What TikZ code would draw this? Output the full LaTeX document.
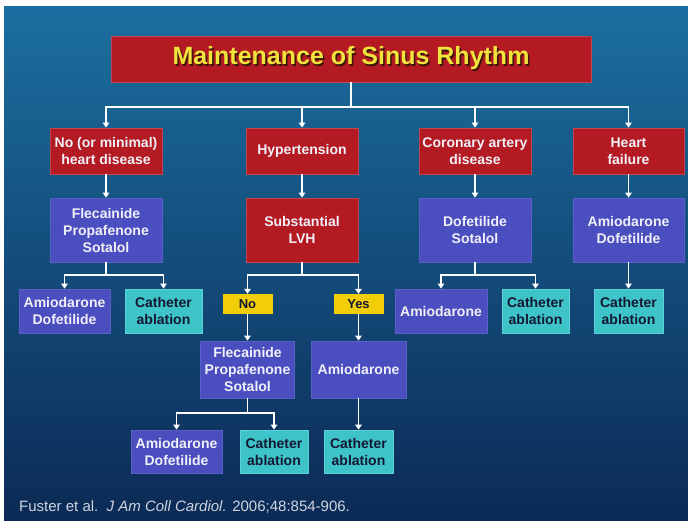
\documentclass[tikz,border=0pt]{standalone}
\usepackage{fontspec}
\setmainfont{Liberation Sans}
\usetikzlibrary{arrows.meta}
\definecolor{bgtop}{RGB}{27,111,160}
\definecolor{bgmid}{RGB}{19,78,128}
\definecolor{bgbot}{RGB}{12,42,86}
\definecolor{boxred}{RGB}{180,26,34}
\definecolor{boxredrim}{RGB}{190,70,80}
\definecolor{boxblue}{RGB}{74,78,190}
\definecolor{boxbluerim}{RGB}{90,95,200}
\definecolor{boxcyan}{RGB}{62,196,200}
\definecolor{boxcyanrim}{RGB}{90,210,214}
\definecolor{boxyel}{RGB}{242,206,8}
\definecolor{boxtext}{RGB}{240,240,248}
\definecolor{darktext}{RGB}{20,24,50}
\definecolor{titleyel}{RGB}{240,228,60}
\definecolor{titleshadow}{RGB}{60,20,10}
\definecolor{footgray}{RGB}{205,212,222}
\newcommand\myshadowtext[1]{\makebox[0pt][l]{\hspace{1.6pt}\raisebox{-1.6pt}{\textcolor{titleshadow}{#1}}}#1}
\begin{document}
\begin{tikzpicture}[x=1pt,y=-1pt,
 base/.style={inner sep=0pt, align=center, font=\fontsize{14}{17}\selectfont\bfseries},
 redbox/.style={base, fill=boxred, draw=boxredrim, line width=0.8pt, text=boxtext},
 bluebox/.style={base, fill=boxblue, draw=boxbluerim, line width=0.8pt, text=boxtext},
 cyanbox/.style={base, fill=boxcyan, draw=boxcyanrim, line width=0.8pt, text=darktext},
 yelbox/.style={base, fill=boxyel, text=darktext, font=\fontsize{13}{15}\selectfont\bfseries},
 conn/.style={draw=white, line width=1.8pt, -{Triangle[width=6.5pt,length=5pt]}},
 sz/.style 2 args={minimum width=#1, minimum height=#2}
]
\fill[white] (0,0) rectangle (688,520);
\useasboundingbox (0,0) rectangle (688,520);
\shade[top color=bgtop, middle color=bgmid, bottom color=bgbot] (4,6) rectangle (688,520);

% title
\node[redbox, sz={480}{46}, text=titleyel, font=\fontsize{25}{30}\selectfont\bfseries] (title) at (351,59) {\myshadowtext{Maintenance of Sinus Rhythm}};

% level 1
\node[redbox, sz={112}{46}] (n1) at (106,151) {No (or minimal)\\heart disease};
\node[redbox, sz={112}{46}] (h1) at (302,151) {Hypertension};
\node[redbox, sz={112}{46}] (c1) at (475,151) {Coronary artery\\disease};
\node[redbox, sz={111}{46}] (f1) at (628.5,151) {Heart\\failure};

% level 2
\node[bluebox, sz={112}{64}] (n2) at (106,230) {Flecainide\\Propafenone\\Sotalol};
\node[redbox, sz={112}{64}] (h2) at (302,230) {Substantial\\LVH};
\node[bluebox, sz={112}{64}] (c2) at (475,230) {Dofetilide\\Sotalol};
\node[bluebox, sz={111}{64}] (f2) at (628.5,230) {Amiodarone\\Dofetilide};

% level 3
\node[bluebox, sz={91}{44}] (n3a) at (64.5,311) {Amiodarone\\Dofetilide};
\node[cyanbox, sz={77}{44}] (n3b) at (163.5,311) {Catheter\\ablation};
\node[yelbox, sz={50}{20}] (no) at (247.5,304) {No};
\node[yelbox, sz={50}{20}] (yes) at (358.5,304) {Yes};
\node[bluebox, sz={92}{44}] (c3a) at (441,311) {Amiodarone};
\node[cyanbox, sz={67}{44}] (c3b) at (535.5,311) {Catheter\\ablation};
\node[cyanbox, sz={69}{44}] (f3) at (628.5,311) {Catheter\\ablation};

% level 4
\node[bluebox, sz={94}{57}] (no4) at (247.5,369.5) {Flecainide\\Propafenone\\Sotalol};
\node[bluebox, sz={95}{57}] (yes4) at (358.5,369.5) {Amiodarone};

% level 5
\node[bluebox, sz={91}{43}] (no5a) at (176.5,451.5) {Amiodarone\\Dofetilide};
\node[cyanbox, sz={68}{43}] (no5b) at (274,451.5) {Catheter\\ablation};
\node[cyanbox, sz={69}{43}] (yes5) at (358.5,451.5) {Catheter\\ablation};

% footer
\node[anchor=west, inner sep=0pt, text=footgray, font=\fontsize{15}{18}\selectfont] (ref) at (19,507) {Fuster et al.\ \ \textit{J Am Coll Cardiol.} 2006;48:854-906.};

% bus coordinates
\coordinate (bus0) at (0,107);
\coordinate (bus1) at (0,275);
\coordinate (bus2) at (0,413);

% connectors
\foreach \t in {n1,h1,c1,f1}
  \draw[conn] (title.south) |- (\t.north |- bus0) -- (\t.north);
\draw[conn] (n1.south) -- (n2.north);
\draw[conn] (h1.south) -- (h2.north);
\draw[conn] (c1.south) -- (c2.north);
\draw[conn] (f1.south) -- (f2.north);
\foreach \t in {n3a,n3b}
  \draw[conn] (n2.south) |- (\t.north |- bus1) -- (\t.north);
\foreach \t in {no,yes}
  \draw[conn] (h2.south) |- (\t.north |- bus1) -- (\t.north);
\foreach \t in {c3a,c3b}
  \draw[conn] (c2.south) |- (\t.north |- bus1) -- (\t.north);
\draw[conn] (f2.south) -- (f3.north);
\draw[conn] (no.south) -- (no4.north);
\draw[conn] (yes.south) -- (yes4.north);
\foreach \t in {no5a,no5b}
  \draw[conn] (no4.south) |- (\t.north |- bus2) -- (\t.north);
\draw[conn] (yes4.south) -- (yes5.north);
\end{tikzpicture}
\end{document}
